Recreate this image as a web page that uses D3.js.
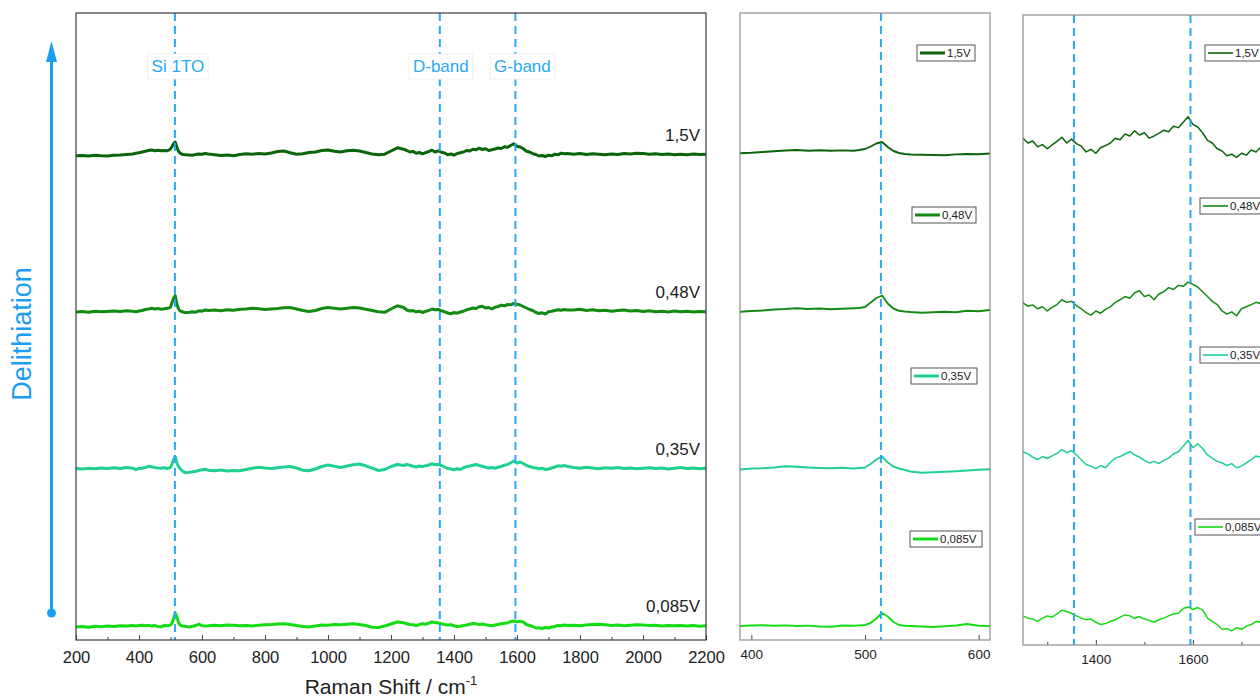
<!DOCTYPE html>
<html>
<head>
<meta charset="utf-8">
<script src="https://cdn.jsdelivr.net/npm/d3@7"></script>
<style>
body { margin: 0; background: #fff; }
svg text { font-family: "Liberation Sans", Arial, sans-serif; }
</style>
</head>
<body>
<svg id="chart" width="1260" height="697"></svg>
<script>
// Raman shift grid, cm-1 (denser around the Si peak and in the zoomed D/G window)
const shift = [
  200,220,240,260,280,300,320,340,360,380,
  390,400,410,420,430,440,450,460,470,480,490,
  495,500,505,510,515,520,525,530,535,
  540,550,560,570,580,590,600,610,
  620,640,660,680,700,720,740,760,780,800,820,840,860,880,900,920,940,960,980,1000,
  1020,1040,1060,1080,1100,1120,1140,1160,1180,1200,1220,1240,
  1250,1260,1270,1280,1290,1300,1310,1320,1330,1340,1350,1360,1370,1380,1390,1400,1410,1420,1430,1440,
  1450,1460,1470,1480,1490,1500,1510,1520,1530,1540,1550,1560,1570,1580,1590,1600,1610,1620,1630,1640,
  1650,1660,1670,1680,1690,1700,1710,1720,1730,1740,1750,1760,
  1780,1800,1820,1840,1860,1880,1900,1920,1940,1960,1980,2000,2020,2040,2060,2080,2100,2120,2140,2160,2180,2200
];

// intensities (a.u., relative to each spectrum's own baseline)
const v1_5 = [
  -7,-5,-10,-3,-8,-10,-2,0,5,10,
  17,22,30,38,45,50,42,48,43,46,43,
  50,60,85,115,130,80,40,20,10,
  5,2,0,-3,6,10,8,15,
  10,2,-5,0,-7,5,12,8,15,10,20,35,40,22,8,12,25,30,45,50,
  38,30,42,48,40,25,10,2,8,40,72,58,
  45,30,36,18,25,12,24,35,48,30,42,28,20,2,10,-2,15,22,30,45,
  40,58,52,68,55,62,45,52,60,70,65,82,78,95,112,88,80,62,38,30,
  12,5,-10,-5,-15,-2,-8,8,2,18,12,15,
  8,15,5,12,8,2,10,5,15,10,18,15,8,12,5,10,3,8,2,10,5,8
];
const v0_48 = [
  0,5,-3,8,2,6,10,5,12,8,
  2,10,15,25,30,38,30,35,28,32,38,
  40,50,95,140,165,85,35,12,5,
  0,-7,-3,2,-2,12,8,20,
  15,20,12,22,18,28,30,38,32,25,30,35,42,45,30,15,5,15,35,45,
  38,30,38,45,40,28,15,2,-3,30,62,45,
  20,10,14,2,8,-5,6,15,30,22,25,12,2,-10,-18,-5,-12,0,8,22,
  30,40,35,52,58,40,45,30,48,55,68,62,75,72,85,78,70,55,40,25,
  15,-5,-15,-8,-20,2,8,15,22,18,25,20,
  20,28,15,22,12,18,8,15,20,10,14,5,12,2,8,0,10,3,8,0,5,2
];
const v0_35 = [
  5,0,8,2,10,4,12,6,14,8,
  -5,5,8,15,27,22,15,10,7,12,5,
  10,15,50,95,125,65,25,5,-10,
  -25,-38,-33,-28,-22,-15,-8,-2,
  -12,-18,-10,-20,-15,-18,-5,8,18,10,5,12,20,25,10,-12,-18,0,25,40,
  28,15,30,42,50,32,8,-15,-5,25,45,35,
  45,38,28,20,30,24,32,40,52,42,48,35,20,5,0,-8,2,-5,12,25,
  30,38,45,35,28,18,10,15,8,18,25,38,45,62,80,58,70,55,35,25,
  15,10,2,8,-5,0,10,20,32,28,35,25,
  15,8,18,10,2,12,8,15,5,10,2,8,12,5,10,0,8,15,5,10,3,8
];
const v0_085 = [
  -10,-5,-12,-3,-8,0,-5,3,0,5,
  0,5,8,2,6,0,4,-5,-8,5,2,
  6,10,30,75,130,95,40,10,3,
  0,-5,-10,-3,5,20,2,0,
  2,8,3,10,8,2,5,0,8,12,15,20,22,15,5,-5,-10,0,10,8,
  15,12,18,22,15,5,-12,-15,0,20,40,32,
  22,15,12,5,15,22,18,28,40,35,30,22,15,10,12,2,-5,-2,5,10,
  18,25,22,14,20,12,8,2,10,15,22,28,30,45,50,42,48,40,15,5,
  -5,-20,-18,-25,-15,-20,-10,-5,5,2,10,5,
  8,2,10,15,18,12,5,10,2,8,12,10,5,8,0,5,2,6,0,4,-2,2
];

const seriesNames = ["0,085V", "0,35V", "0,48V", "1,5V"];
const seriesColors = ["#14dc14", "#1fd08f", "#138a13", "#0a650a"];
const bandNames = ["Si 1TO", "D-band", "G-band"];
const bandPos = [514, 1355, 1595];
const mainTicks = [200,400,600,800,1000,1200,1400,1600,1800,2000,2200];
const mainMinor = [300,500,700,900,1100,1300,1500,1700,1900,2100];
const midTicks = [400,500,600];
const zoomTicks = [1400,1600];
const zoomMinor = [1300,1500,1700];

const series = [v0_085, v0_35, v0_48, v1_5];
series.forEach((s, i) => { if (s.length !== shift.length) console.error("length mismatch", i, s.length); });

const blue = "#1a9ef2";
const dashBlue = "#2ba8f5";
const svg = d3.select("#chart");

const panels = [
  {id: "main", left: 76, right: 706, top: 13, bottom: 640, xDom: [200, 2200], yDom: [-140, 6130], step: 1570,
   lw: 3, frame: "#3a3a3a", ticks: mainTicks, minor: mainMinor, font: 16.5, pad: 11},
  {id: "mid", left: 740, right: 990, top: 13, bottom: 640, xDom: [390, 610], yDom: [-140, 6130], step: 1570,
   lw: 1.9, frame: "#8c8c8c", ticks: midTicks, minor: [], font: 13.5, pad: 9},
  {id: "zoom", left: 1023, right: 1273, top: 15, bottom: 645, xDom: [1250, 1765], yDom: [-69, 1900], step: 490,
   lw: 1.5, frame: "#8c8c8c", ticks: zoomTicks, minor: zoomMinor, font: 13.5, pad: 9}
];

panels.forEach(p => {
  p.x = d3.scaleLinear().domain(p.xDom).range([p.left, p.right]);
  p.y = d3.scaleLinear().domain(p.yDom).range([p.bottom, p.top]);
  const g = svg.append("g");

  g.append("clipPath").attr("id", "clip-" + p.id)
    .append("rect")
    .attr("x", p.left).attr("y", p.top)
    .attr("width", p.right - p.left).attr("height", p.bottom - p.top);

  const body = g.append("g").attr("clip-path", "url(#clip-" + p.id + ")");

  const line = d3.line().x(d => p.x(d[0])).y(d => p.y(d[1]));
  series.forEach((vals, i) => {
    const pts = shift.map((s, k) => [s, vals[k] + i * p.step]);
    body.append("path")
      .datum(pts)
      .attr("d", line)
      .attr("fill", "none")
      .attr("stroke", seriesColors[i])
      .attr("stroke-width", p.lw)
      .attr("stroke-linejoin", "round");
  });

  bandPos.forEach(b => {
    if (b < p.xDom[0] || b > p.xDom[1]) return;
    body.append("line")
      .attr("x1", p.x(b)).attr("x2", p.x(b))
      .attr("y1", p.top).attr("y2", p.bottom)
      .attr("stroke", dashBlue)
      .attr("stroke-width", 2)
      .attr("stroke-dasharray", "8,5");
  });

  const axis = g.append("g")
    .attr("transform", "translate(0," + p.bottom + ")")
    .call(d3.axisBottom(p.x).tickValues(p.ticks).tickSize(-5).tickPadding(p.pad).tickFormat(d3.format("d")));
  axis.select(".domain").remove();
  axis.selectAll("text").attr("font-size", p.font).attr("fill", "#222");
  axis.selectAll("line").attr("stroke", "#444");

  if (p.minor.length) {
    const mAxis = g.append("g")
      .attr("transform", "translate(0," + p.bottom + ")")
      .call(d3.axisBottom(p.x).tickValues(p.minor).tickSize(-3).tickFormat(""));
    mAxis.select(".domain").remove();
    mAxis.selectAll("line").attr("stroke", "#444");
  }

  g.append("rect")
    .attr("x", p.left).attr("y", p.top)
    .attr("width", p.right - p.left).attr("height", p.bottom - p.top)
    .attr("fill", "none")
    .attr("stroke", p.frame)
    .attr("stroke-width", 1.2);
});

// main panel annotations, each on a white label box over the dashed line
const mp = panels[0];
const bandDx = [3, 1, 7];
bandNames.forEach((name, i) => {
  const g = svg.append("g");
  const t = g.append("text")
    .attr("x", mp.x(bandPos[i]) + bandDx[i])
    .attr("y", 72)
    .attr("text-anchor", "middle")
    .attr("font-size", 17)
    .attr("fill", dashBlue)
    .text(name);
  const bb = t.node().getBBox();
  g.insert("rect", "text")
    .attr("x", bb.x - 4).attr("y", bb.y - 3)
    .attr("width", bb.width + 8).attr("height", bb.height + 6)
    .attr("fill", "#fff")
    .attr("stroke", "#f0f0f0");
});

seriesNames.forEach((name, i) => {
  svg.append("text")
    .attr("x", 700)
    .attr("y", mp.y(i * mp.step) - 14)
    .attr("text-anchor", "end")
    .attr("font-size", 17)
    .attr("fill", "#222")
    .text(name);
});

const title = svg.append("text")
  .attr("x", 391)
  .attr("y", 694)
  .attr("text-anchor", "middle")
  .attr("font-size", 21)
  .attr("fill", "#222");
title.append("tspan").text("Raman Shift / cm");
title.append("tspan").attr("font-size", 13).attr("dy", -9).text("-1");

// delithiation arrow
svg.append("line")
  .attr("x1", 51.5).attr("x2", 51.5)
  .attr("y1", 613).attr("y2", 56)
  .attr("stroke", blue)
  .attr("stroke-width", 3);
svg.append("path")
  .attr("d", "M51.5,41 L46,62 L57,62 Z")
  .attr("fill", blue);
svg.append("circle")
  .attr("cx", 51.5).attr("cy", 613).attr("r", 4.5)
  .attr("fill", blue);
svg.append("text")
  .attr("transform", "translate(31,334) rotate(-90)")
  .attr("text-anchor", "middle")
  .attr("font-size", 27)
  .attr("fill", blue)
  .text("Delithiation");

// legends of the two side panels
function legend(box, i, thick) {
  const g = svg.append("g");
  g.append("rect")
    .attr("x", box[0]).attr("y", box[1])
    .attr("width", box[2]).attr("height", 16)
    .attr("fill", "#fff")
    .attr("stroke", "#555")
    .attr("stroke-width", 1);
  g.append("line")
    .attr("x1", box[0] + 3).attr("x2", box[0] + 28)
    .attr("y1", box[1] + 8).attr("y2", box[1] + 8)
    .attr("stroke", seriesColors[i])
    .attr("stroke-width", thick);
  g.append("text")
    .attr("x", box[0] + 30)
    .attr("y", box[1] + 12)
    .attr("font-size", 11.5)
    .attr("fill", "#222")
    .text(seriesNames[i]);
}
const midBoxes = [[910, 531, 72], [911, 368, 66], [912, 207, 64], [917, 45, 58]];
const zoomBoxes = [[1195, 519, 80], [1200, 347, 75], [1200, 198, 75], [1205, 45, 70]];
seriesNames.forEach((n, i) => {
  legend(midBoxes[i], i, 3);
  legend(zoomBoxes[i], i, 1.6);
});
</script>
</body>
</html>
